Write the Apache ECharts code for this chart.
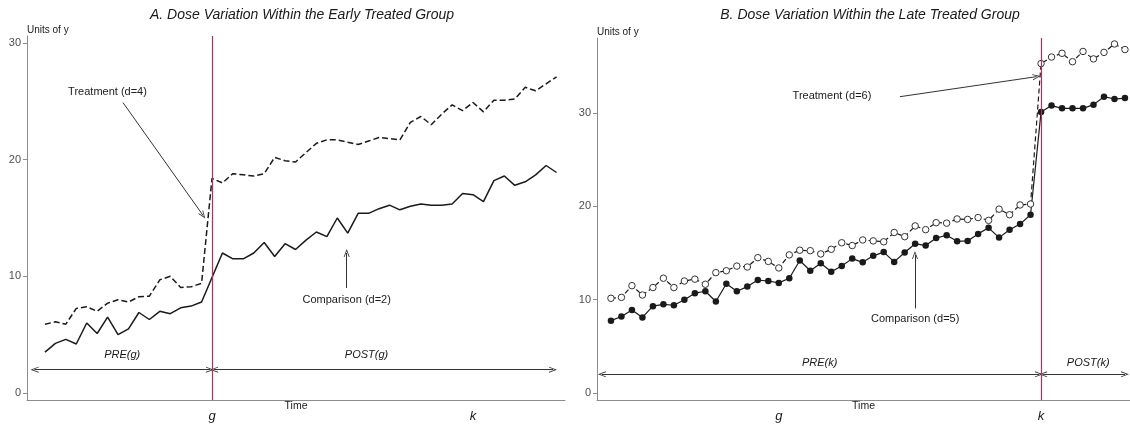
<!DOCTYPE html>
<html>
<head>
<meta charset="utf-8">
<script src="https://cdn.jsdelivr.net/npm/echarts@6/dist/echarts.min.js"></script>
<style>
  html, body { margin: 0; padding: 0; background: #fff; }
  #chart { width: 1130px; height: 427px; }
</style>
</head>
<body>
<div id="chart"></div>
<script>
// time periods, shared by both panels
const periods = [0, 1, 2, 3, 4, 5, 6, 7, 8, 9, 10, 11, 12, 13, 14, 15, 16, 17, 18, 19,
  20, 21, 22, 23, 24, 25, 26, 27, 28, 29, 30, 31, 32, 33, 34, 35, 36, 37, 38, 39,
  40, 41, 42, 43, 44, 45, 46, 47, 48, 49]
const gPeriod = 16
const kPeriod = 41
const timeMarks = ["g", "k"]
const yTicks = [0, 10, 20, 30]

// A. early treated group
const treatEarly = [5.9, 6.1, 5.9, 7.25, 7.4, 7.0, 7.7, 8.0, 7.8, 8.25, 8.3, 9.7, 10.0, 9.05, 9.1, 9.4,
  18.4, 18.0, 18.8, 18.7, 18.6, 18.8, 20.2, 19.9, 19.8, 20.6, 21.4, 21.7, 21.7, 21.5, 21.3, 21.6,
  21.9, 21.8, 21.7, 23.2, 23.7, 23.0, 23.9, 24.7, 24.2, 24.9, 24.1, 25.1, 25.1, 25.2, 26.2, 25.9,
  26.5, 27.1]
const compEarly = [3.5, 4.25, 4.6, 4.2, 6.0, 5.1, 6.5, 5.0, 5.5, 6.9, 6.3, 7.0, 6.8, 7.3, 7.45, 7.8,
  9.9, 12.0, 11.5, 11.5, 12.0, 12.9, 11.7, 12.8, 12.3, 13.1, 13.8, 13.4, 15.0, 13.7, 15.4, 15.4,
  15.8, 16.1, 15.7, 16.0, 16.2, 16.1, 16.1, 16.2, 17.1, 17.0, 16.4, 18.2, 18.6, 17.8, 18.1, 18.7,
  19.5, 18.9]

// B. late treated group
const treatLate = [10.15, 10.25, 11.5, 10.5, 11.3, 12.3, 11.3, 12.0, 12.2, 11.65, 12.9, 13.1, 13.6,
  13.5, 14.5, 14.1, 13.4, 14.8, 15.3, 15.25, 14.9, 15.4, 16.1, 15.8, 16.4, 16.3, 16.2, 17.2, 16.75,
  17.9, 17.5, 18.25, 18.2, 18.65, 18.6, 18.8, 18.5, 19.7, 19.1, 20.15, 20.25, 35.3, 36.0, 36.4,
  35.5, 36.6, 35.8, 36.5, 37.4, 36.8]
const compLate = [7.75, 8.2, 8.9, 8.1, 9.3, 9.5, 9.4, 10.0, 10.7, 10.9, 9.8, 11.7, 10.9, 11.4, 12.1,
  12.0, 11.8, 12.3, 14.2, 13.1, 13.9, 13.0, 13.6, 14.4, 14.0, 14.7, 15.1, 14.05, 15.05, 16.0, 15.8,
  16.6, 16.9, 16.25, 16.3, 17.05, 17.7, 16.65, 17.5, 18.1, 19.1, 30.1, 30.8, 30.5, 30.5, 30.5,
  30.9, 31.75, 31.5, 31.6]

const font = "Liberation Sans, Arial, sans-serif"
const ink = "#1a1a1a"
const axisGrey = "#8c8c8c"
const chevron = "path://M5,0 L10,12 L8.6,12 L5,3.4 L1.4,12 L0,12 Z"

const pairs = (vals) => periods.map((t, i) => [t, vals[i]])

function xAxisFor(idx, min, max) {
    return {
        type: "value", gridIndex: idx, min, max,
        name: "Time", nameLocation: "middle", nameGap: 1, nameMoveOverlap: false,
        nameTextStyle: { fontFamily: font, fontSize: 10.5, color: ink, verticalAlign: "top" },
        axisLine: { onZero: false, lineStyle: { color: axisGrey, width: 1 } },
        axisTick: { show: false },
        splitLine: { show: false },
        axisLabel: {
            customValues: [gPeriod, kPeriod],
            formatter: (v) => (v === gPeriod ? timeMarks[0] : timeMarks[1]),
            fontFamily: font, fontSize: 13, fontStyle: "italic", color: ink, margin: 10,
        },
    }
}

function yAxisFor(idx, min, max) {
    return {
        type: "value", gridIndex: idx, min, max,
        name: "Units of y", nameLocation: "end", nameGap: 1, nameMoveOverlap: false,
        nameTextStyle: { fontFamily: font, fontSize: 10, color: ink, align: "left" },
        axisLine: { show: true, onZero: false, lineStyle: { color: axisGrey, width: 1 } },
        axisTick: { show: true, length: 4, customValues: yTicks, lineStyle: { color: axisGrey } },
        splitLine: { show: false },
        axisLabel: { customValues: yTicks, fontFamily: font, fontSize: 11, color: "#4d4d4d", margin: 6 },
    }
}

const redStyle = { color: "#b03060", width: 1.2, type: "solid" }
const arrowStyle = { color: "#333", width: 1, type: "solid" }
const noteLabel = (italic) => ({
    show: true, position: "inside", formatter: "{b}",
    fontFamily: font, fontSize: 11, color: ink, fontStyle: italic ? "italic" : "normal",
})
const note = (name, x, y, italic) => ({ name, coord: [x, y], label: noteLabel(italic) })
const span = (x1, x2, y) => [
    { coord: [x1, y], symbol: chevron },
    { coord: [x2, y], symbol: chevron },
]
const pointer = (x1, y1, x2, y2) => [
    { coord: [x1, y1], symbol: "none" },
    { coord: [x2, y2], symbol: chevron },
]
const marks = (data) => ({
    silent: true, symbol: "none", symbolSize: [6, 8],
    label: { show: false }, lineStyle: arrowStyle, data,
})
// treatment timing line, spanning the full height of the panel's y axis
const cutLine = (period) => ({
    silent: true, symbol: "none", label: { show: false }, lineStyle: redStyle,
    data: [[{ xAxis: period, yAxis: "min" }, { xAxis: period, yAxis: "max" }]],
})

let myChart = echarts.init(document.getElementById("chart"))
myChart.setOption({
    animation: false,
    title: [
        {
            text: "A. Dose Variation Within the Early Treated Group", left: 297, top: 3, textAlign: "center",
            textStyle: { fontFamily: font, fontSize: 14, fontStyle: "italic", fontWeight: "normal", color: ink },
        },
        {
            text: "B. Dose Variation Within the Late Treated Group", left: 865, top: 3, textAlign: "center",
            textStyle: { fontFamily: font, fontSize: 14, fontStyle: "italic", fontWeight: "normal", color: ink },
        },
    ],
    grid: [
        { left: 27, top: 36, width: 538, height: 364 },
        { left: 597, top: 38, width: 533, height: 362 },
    ],
    xAxis: [xAxisFor(0, -1.72, 49.81), xAxisFor(1, -1.33, 49.48)],
    yAxis: [yAxisFor(0, -0.6, 30.6), yAxisFor(1, -0.75, 38.04)],
    series: [
        {
            name: "Treatment (d=4)", type: "line", xAxisIndex: 0, yAxisIndex: 0,
            data: pairs(treatEarly), symbol: "none",
            lineStyle: { color: ink, width: 1.5, type: [6, 3] },
            markLine: marks([
                pointer(7.47, 24.9, 15.13, 15.24),
                span(-1, 15.8, 2),
                span(16.2, 48.66, 2),
            ]),
            markPoint: {
                silent: true, symbolSize: 0,
                data: [
                    note("Treatment (d=4)", 5.99, 25.8),
                    note("PRE(g)", 7.4, 3.25, true),
                    note("POST(g)", 30.8, 3.25, true),
                ],
            },
        },
        {
            name: "Comparison (d=2)", type: "line", xAxisIndex: 0, yAxisIndex: 0,
            data: pairs(compEarly), symbol: "none",
            lineStyle: { color: ink, width: 1.5, type: "solid" },
            markLine: marks([pointer(28.9, 9.0, 28.9, 12.0)]),
            markPoint: {
                silent: true, symbolSize: 0,
                data: [note("Comparison (d=2)", 28.9, 7.96)],
            },
        },
        {
            name: "Treatment (d=6)", type: "line", xAxisIndex: 1, yAxisIndex: 1,
            data: pairs(treatLate), symbol: "circle", symbolSize: 6.5,
            itemStyle: { color: "#fff", borderColor: "#333", borderWidth: 1 },
            lineStyle: { color: ink, width: 1.2, type: [5, 3] },
            markLine: marks([
                pointer(27.55, 31.75, 40.58, 33.9),
                span(-0.86, 40.8, 2),
                span(41.2, 49.0, 2),
            ]),
            markPoint: {
                silent: true, symbolSize: 0,
                data: [
                    note("Treatment (d=6)", 21.07, 31.85),
                    note("PRE(k)", 19.9, 3.2, true),
                    note("POST(k)", 45.5, 3.2, true),
                ],
            },
        },
        {
            name: "Comparison (d=5)", type: "line", xAxisIndex: 1, yAxisIndex: 1,
            data: pairs(compLate), symbol: "circle", symbolSize: 6.5,
            itemStyle: { color: ink },
            lineStyle: { color: ink, width: 1.2, type: "solid" },
            markLine: marks([pointer(28.98, 9.07, 28.98, 14.79)]),
            markPoint: {
                silent: true, symbolSize: 0,
                data: [note("Comparison (d=5)", 29, 7.9)],
            },
        },
        {
            name: "timing A", type: "line", xAxisIndex: 0, yAxisIndex: 0, data: [],
            markLine: cutLine(gPeriod), z: 10,
        },
        {
            name: "timing B", type: "line", xAxisIndex: 1, yAxisIndex: 1, data: [],
            markLine: cutLine(kPeriod), z: 10,
        },
    ],
})
</script>
</body>
</html>
